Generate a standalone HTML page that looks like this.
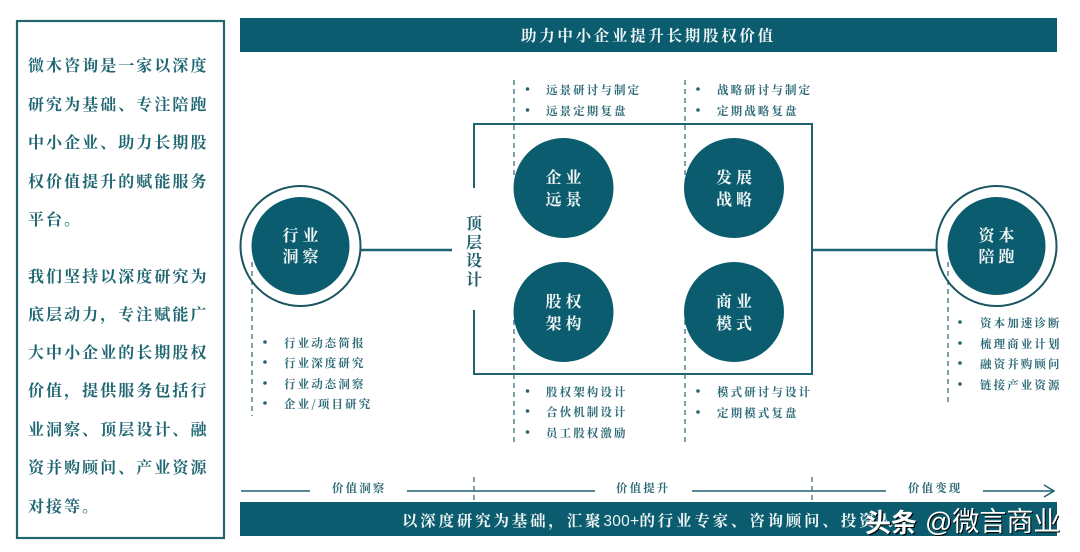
<!DOCTYPE html>
<html lang="zh">
<head>
<meta charset="utf-8">
<style>
html,body{margin:0;padding:0;background:#fff;width:1080px;height:552px;overflow:hidden}
svg{display:block}
text{font-family:"Noto Serif CJK SC","Liberation Serif",serif;font-weight:700}
.p{font-size:16px;fill:#1f6672;letter-spacing:2.05px}
.s{font-size:11.5px;fill:#2c6a77;letter-spacing:2.1px}
.w{font-size:16px;fill:#f2f7f8;letter-spacing:4px;text-anchor:middle}
.d{stroke:#3f6f78;stroke-width:1.3;stroke-dasharray:5 4;fill:none}
.l{stroke:#1f6270;fill:none}
.wm{font-family:"Liberation Sans","Noto Sans CJK SC",sans-serif}
</style>
</head>
<body>
<svg width="1080" height="552" viewBox="0 0 1080 552" xmlns="http://www.w3.org/2000/svg">
<rect width="1080" height="552" fill="#fff"/>

<!-- left panel -->
<rect x="17" y="21" width="207" height="517" fill="#fff" stroke="#24646f" stroke-width="2.2"/>
<text class="p" x="28" y="71">微木咨询是一家以深度</text>
<text class="p" x="28" y="110">研究为基础、专注陪跑</text>
<text class="p" x="28" y="148">中小企业、助力长期股</text>
<text class="p" x="28" y="187">权价值提升的赋能服务</text>
<text class="p" x="28" y="225">平台。</text>
<text class="p" x="28" y="282">我们坚持以深度研究为</text>
<text class="p" x="28" y="320">底层动力&#xFF0C;专注赋能广</text>
<text class="p" x="28" y="358">大中小企业的长期股权</text>
<text class="p" x="28" y="396">价值&#xFF0C;提供服务包括行</text>
<text class="p" x="28" y="435">业洞察、顶层设计、融</text>
<text class="p" x="28" y="473">资并购顾问、产业资源</text>
<text class="p" x="28" y="512">对接等。</text>

<!-- top bar -->
<rect x="240" y="18" width="817" height="34" fill="#0b5c6e"/>
<text x="521" y="41" style="font-size:15.5px;letter-spacing:2.7px;fill:#eef5f6">助力中小企业提升长期股权价值</text>

<!-- frame -->
<path class="l" stroke-width="2" d="M474 188V124H812V374H474V310"/>

<!-- connectors -->
<path class="l" stroke-width="2.5" d="M361 250H452M812 250H937"/>

<!-- dashed -->
<path class="d" d="M514 80V176M685 80V176M514 320V445M685 320V442M252 262V416M948 262V402M474 477V502M812 477V502"/>

<!-- circles -->
<g fill="#0b5c6e">
<circle cx="563.5" cy="188" r="50"/>
<circle cx="734" cy="188" r="50"/>
<circle cx="563.5" cy="312" r="50"/>
<circle cx="734" cy="312" r="50"/>
<circle cx="300.5" cy="246" r="49"/>
<circle cx="996.5" cy="246" r="49"/>
</g>
<circle cx="300.5" cy="246" r="60" fill="none" stroke="#1a5560" stroke-width="2"/>
<circle cx="996.5" cy="246" r="60" fill="none" stroke="#1a5560" stroke-width="2"/>

<text class="w" x="565.5" y="183">企业</text>
<text class="w" x="565.5" y="205">远景</text>
<text class="w" x="736" y="183">发展</text>
<text class="w" x="736" y="205">战略</text>
<text class="w" x="565.5" y="307">股权</text>
<text class="w" x="565.5" y="329">架构</text>
<text class="w" x="736" y="307">商业</text>
<text class="w" x="736" y="329">模式</text>
<text class="w" x="302.5" y="241">行业</text>
<text class="w" x="302.5" y="262">洞察</text>
<text class="w" x="998.5" y="241">资本</text>
<text class="w" x="998.5" y="262">陪跑</text>

<!-- vertical label -->
<g style="font-size:16px;fill:#1f5f6c">
<text x="466" y="229">顶</text>
<text x="466" y="248">层</text>
<text x="466" y="266">设</text>
<text x="466" y="285">计</text>
</g>

<!-- bullets -->
<g fill="#24646f">
<circle cx="527.5" cy="89" r="1.8"/><circle cx="527.5" cy="110" r="1.8"/>
<circle cx="698" cy="89" r="1.8"/><circle cx="698" cy="110" r="1.8"/>
<circle cx="527.5" cy="391" r="1.8"/><circle cx="527.5" cy="411" r="1.8"/><circle cx="527.5" cy="432" r="1.8"/>
<circle cx="698" cy="391" r="1.8"/><circle cx="698" cy="412" r="1.8"/>
<circle cx="265" cy="342" r="1.8"/><circle cx="265" cy="362" r="1.8"/><circle cx="265" cy="383" r="1.8"/><circle cx="265" cy="403" r="1.8"/>
<circle cx="960" cy="322" r="1.8"/><circle cx="960" cy="343" r="1.8"/><circle cx="960" cy="363" r="1.8"/><circle cx="960" cy="384" r="1.8"/>
</g>

<!-- lists -->
<text class="s" x="546" y="94">远景研讨与制定</text>
<text class="s" x="546" y="115">远景定期复盘</text>
<text class="s" x="717" y="94">战略研讨与制定</text>
<text class="s" x="717" y="115">定期战略复盘</text>
<text class="s" x="546" y="396">股权架构设计</text>
<text class="s" x="546" y="416">合伙机制设计</text>
<text class="s" x="546" y="437">员工股权激励</text>
<text class="s" x="717" y="396">模式研讨与设计</text>
<text class="s" x="717" y="417">定期模式复盘</text>
<text class="s" x="284" y="347">行业动态简报</text>
<text class="s" x="284" y="367">行业深度研究</text>
<text class="s" x="284" y="388">行业动态洞察</text>
<text class="s" x="284" y="408">企业/<tspan>项目研究</tspan></text>
<text class="s" x="980" y="327">资本加速诊断</text>
<text class="s" x="980" y="348">梳理商业计划</text>
<text class="s" x="980" y="368">融资并购顾问</text>
<text class="s" x="980" y="389">链接产业资源</text>

<!-- timeline -->
<path class="l" stroke-width="1.5" d="M241 491H310M407 491H595M692 491H886M983 491H1054M1044 485L1054 491L1044 497"/>
<text class="s" x="332" y="492">价值洞察</text>
<text class="s" x="616" y="492">价值提升</text>
<text class="s" x="908" y="492">价值变现</text>

<!-- bottom bar -->
<rect x="240" y="502" width="817" height="34" fill="#0b5c6e"/>
<text x="402" y="526" style="font-size:15.5px;letter-spacing:2.8px;fill:#eef5f6">以深度研究为基础&#xFF0C;汇聚<tspan style="font-family:'Liberation Sans',sans-serif;font-weight:400;letter-spacing:0.3px">300+</tspan>的行业专家、咨询顾问、投资人</text>

<!-- watermark -->
<text class="wm" x="866.2" y="533.2" style="font-size:26px;font-weight:700;fill:#000">头条</text>
<text class="wm" x="865" y="532" style="font-size:26px;font-weight:700;fill:#fff">头条</text>
<text class="wm" x="926" y="532" style="font-size:27px;font-weight:400;fill:#000">@微言商业</text>
<text class="wm" x="925" y="531" style="font-size:27px;font-weight:400;fill:#fff">@微言商业</text>
</svg>
</body>
</html>
